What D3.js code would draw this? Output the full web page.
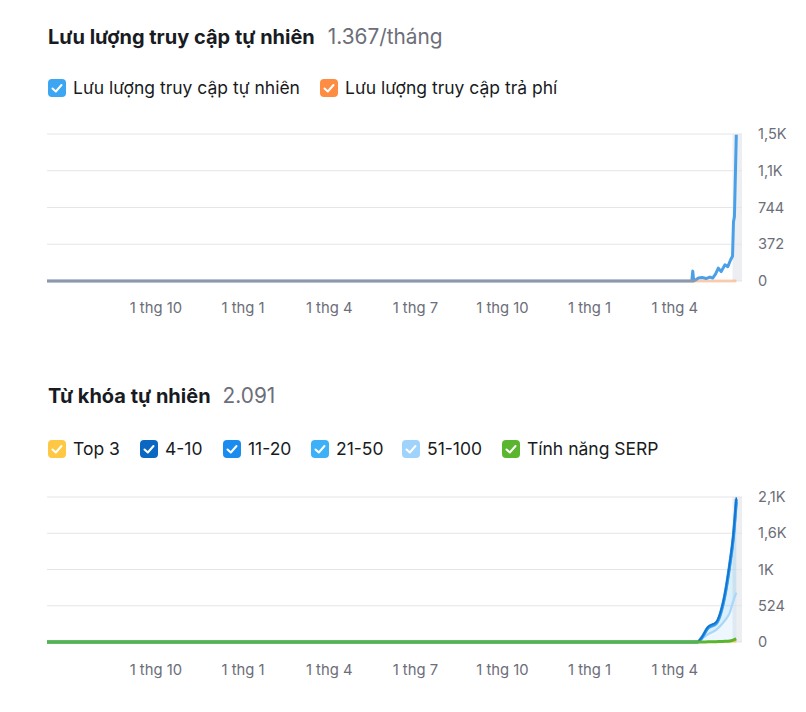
<!DOCTYPE html>
<html>
<head>
<meta charset="utf-8">
<script src="https://cdn.jsdelivr.net/npm/d3@7"></script>
<style>
  body { margin: 0; background: #fff; }
  svg { display: block; font-family: Inter, "Noto Sans", sans-serif; }
</style>
</head>
<body>
<svg id="chart" width="806" height="712"></svg>
<script>
// Traffic chart data
const trafficDates = ["2023-06-08", "2025-04-19", "2025-04-20", "2025-04-21", "2025-04-23", "2025-04-26",
    "2025-04-30", "2025-05-04", "2025-05-08", "2025-05-11", "2025-05-14", "2025-05-17", "2025-05-20",
    "2025-05-24", "2025-05-27", "2025-05-30", "2025-06-01", "2025-06-02", "2025-06-03", "2025-06-05"];
const organicTraffic = [0, 0, 100, 0, 10, 30, 35, 25, 40, 30, 70, 130, 95, 165, 145, 215, 250, 600, 650, 1480];
const paidTraffic = [0, 0, 0, 0, 0, 0, 0, 0, 0, 0, 0, 0, 0, 0, 0, 0, 0, 0, 0, 0];
const trafficTicks = [0, 372, 744, 1116, 1488];
const trafficTickLabels = ["0", "372", "744", "1,1K", "1,5K"];

// Keyword chart data
const kwDates = ["2023-06-08", "2025-04-25", "2025-04-29", "2025-05-06", "2025-05-15", "2025-05-19",
    "2025-05-24", "2025-05-29", "2025-06-02", "2025-06-05"];
const top3 = [0, 0, 0, 0, 0, 1, 2, 2, 3, 4];
const pos4to10 = [0, 0, 3, 8, 10, 12, 15, 18, 22, 25];
const pos11to20 = [0, 0, 5, 12, 15, 20, 25, 30, 35, 40];
const pos21to50 = [0, 0, 10, 87, 88, 156, 356, 672, 916, 1312];
const pos51to100 = [0, 0, 40, 110, 180, 230, 310, 420, 600, 710];
const serpFeatures = [0, 0, 0, 2, 5, 8, 10, 15, 30, 45];
const kwTicks = [0, 524, 1048, 1572, 2096];
const kwTickLabels = ["0", "524", "1K", "1,6K", "2,1K"];

const domainStart = "2023-06-08";
const domainEnd = "2025-06-11";
const currentPeriodStart = "2025-06-01";

const parse = d3.timeParse("%Y-%m-%d");
const svg = d3.select("#chart");

var x = d3.scaleTime()
    .domain([parse(domainStart), parse(domainEnd)])
    .range([47, 742]);

function checkbox(g, px, py, color) {
    g.append("rect")
        .attr("x", px).attr("y", py)
        .attr("width", 18).attr("height", 18)
        .attr("rx", 4)
        .attr("fill", color);
    g.append("path")
        .attr("d", `M${px + 4.5},${py + 9.5} L${px + 7.8},${py + 12.5} L${px + 13.5},${py + 6}`)
        .attr("fill", "none")
        .attr("stroke", "#fff")
        .attr("stroke-width", 2)
        .attr("stroke-linecap", "round")
        .attr("stroke-linejoin", "round");
}

function title(yPos, main, extra, gap) {
    var t = svg.append("text")
        .attr("x", 48).attr("y", yPos);
    t.append("tspan").attr("font-weight", 700).attr("fill", "#191b23")
        .style("font-size", "20px").text(main);
    t.append("tspan").attr("dx", gap).attr("fill", "#6c6e79")
        .style("font-size", "20.8px").text(extra);
}

function legend(yPos, items) {
    items.forEach(it => {
        var g = svg.append("g");
        checkbox(g, it.x, yPos - 9, it.color);
        g.append("text")
            .attr("x", it.x + 25).attr("y", yPos + 6)
            .attr("fill", "#191b23")
            .style("font-size", "17.5px")
            .text(it.name);
    });
}

function frame(y, ticks, labels, labelY) {
    var g = svg.append("g");
    // current period band
    g.append("rect")
        .attr("x", x(parse(currentPeriodStart)))
        .attr("y", y.range()[1])
        .attr("width", x.range()[1] - x(parse(currentPeriodStart)))
        .attr("height", y.range()[0] - y.range()[1])
        .attr("fill", "#eceef1");

    g.selectAll(".grid")
        .data(ticks)
        .enter().append("line")
        .attr("x1", x.range()[0]).attr("x2", x.range()[1])
        .attr("y1", d => y(d)).attr("y2", d => y(d))
        .attr("stroke", "#e4e5e9")
        .attr("stroke-width", 1);

    g.selectAll(".ylab")
        .data(ticks)
        .enter().append("text")
        .attr("x", 758)
        .attr("y", d => y(d) + 5)
        .attr("fill", "#6c6e79")
        .style("font-size", "14.6px")
        .text((d, i) => labels[i]);

    // quarter ticks, skip the one squeezed against the left edge
    g.selectAll(".xlab")
        .data(x.ticks(d3.timeMonth.every(3)).filter(d => x(d) > 100))
        .enter().append("text")
        .attr("x", d => x(d))
        .attr("y", labelY)
        .attr("text-anchor", "middle")
        .attr("fill", "#6c6e79")
        .style("font-size", "14.8px")
        .text(d => "1 thg " + (d.getMonth() + 1));
}

// ---------- Traffic chart ----------
title(44, "Lưu lượng truy cập tự nhiên", "1.367/tháng", 13);
legend(88, [
    { name: "Lưu lượng truy cập tự nhiên", x: 48, color: "#3ca6f2" },
    { name: "Lưu lượng truy cập trả phí", x: 320, color: "#ff8c43" }
]);

var y1 = d3.scaleLinear().domain([0, 1488]).range([281, 134]);
frame(y1, trafficTicks, trafficTickLabels, 313);

var trafficData = trafficDates.map((d, i) => ({ date: parse(d), organic: organicTraffic[i], paid: paidTraffic[i] }));

svg.append("path")
    .datum(trafficData)
    .attr("fill", "none")
    .attr("stroke", "#4aa0e8")
    .attr("stroke-width", 3)
    .attr("stroke-linejoin", "round")
    .attr("d", d3.line().x(d => x(d.date)).y(d => y1(d.organic)));

svg.append("path")
    .datum(trafficData)
    .attr("fill", "none")
    .attr("stroke", "#ff8c43")
    .attr("stroke-opacity", 0.38)
    .attr("stroke-width", 3)
    .attr("d", d3.line().x(d => x(d.date)).y(d => y1(d.paid)));

// ---------- Keyword chart ----------
title(403, "Từ khóa tự nhiên", "2.091", 12);
legend(449, [
    { name: "Top 3", x: 48, color: "#ffc844" },
    { name: "4-10", x: 140, color: "#0b67c2" },
    { name: "11-20", x: 223, color: "#1a8cf0" },
    { name: "21-50", x: 311, color: "#3db0f7" },
    { name: "51-100", x: 402, color: "#9fd3fb" },
    { name: "Tính năng SERP", x: 502, color: "#5ab52f" }
]);

var y2 = d3.scaleLinear().domain([0, 2096]).range([642, 497]);
frame(y2, kwTicks, kwTickLabels, 675);

var kwData = kwDates.map((d, i) => ({
    date: parse(d),
    "Top 3": top3[i],
    "51-100": pos51to100[i],
    "21-50": pos21to50[i],
    "11-20": pos11to20[i],
    "4-10": pos4to10[i],
    serp: serpFeatures[i]
}));

var kwKeys = ["Top 3", "51-100", "21-50", "11-20", "4-10"];
var kwColors = { "51-100": "#a9d7f8", "21-50": "#4eb0f2", "11-20": "#2794ea", "4-10": "#1570cc", "Top 3": "#ffc844" };
var kwWidths = { "51-100": 2.2, "21-50": 3, "11-20": 3, "4-10": 1.5, "Top 3": 1.5 };

var stacked = d3.stack().keys(kwKeys)(kwData);

var area = d3.area()
    .curve(d3.curveMonotoneX)
    .x(d => x(d.data.date))
    .y0(d => y2(d[0]))
    .y1(d => y2(d[1]));

svg.append("g")
    .selectAll("path")
    .data(stacked)
    .enter().append("path")
    .attr("fill", d => kwColors[d.key])
    .attr("fill-opacity", 0.2)
    .attr("d", area);

var topLine = d3.line()
    .curve(d3.curveMonotoneX)
    .x(d => x(d.data.date))
    .y(d => y2(d[1]));

svg.append("g")
    .selectAll("path")
    .data(stacked)
    .enter().append("path")
    .attr("fill", "none")
    .attr("stroke", d => kwColors[d.key])
    .attr("stroke-width", d => kwWidths[d.key])
    .attr("d", topLine);

svg.append("path")
    .datum(kwData)
    .attr("fill", "none")
    .attr("stroke", "#5ab52f")
    .attr("stroke-width", 3)
    .attr("d", d3.line().curve(d3.curveMonotoneX).x(d => x(d.date)).y(d => y2(d.serp)));
</script>
</body>
</html>
